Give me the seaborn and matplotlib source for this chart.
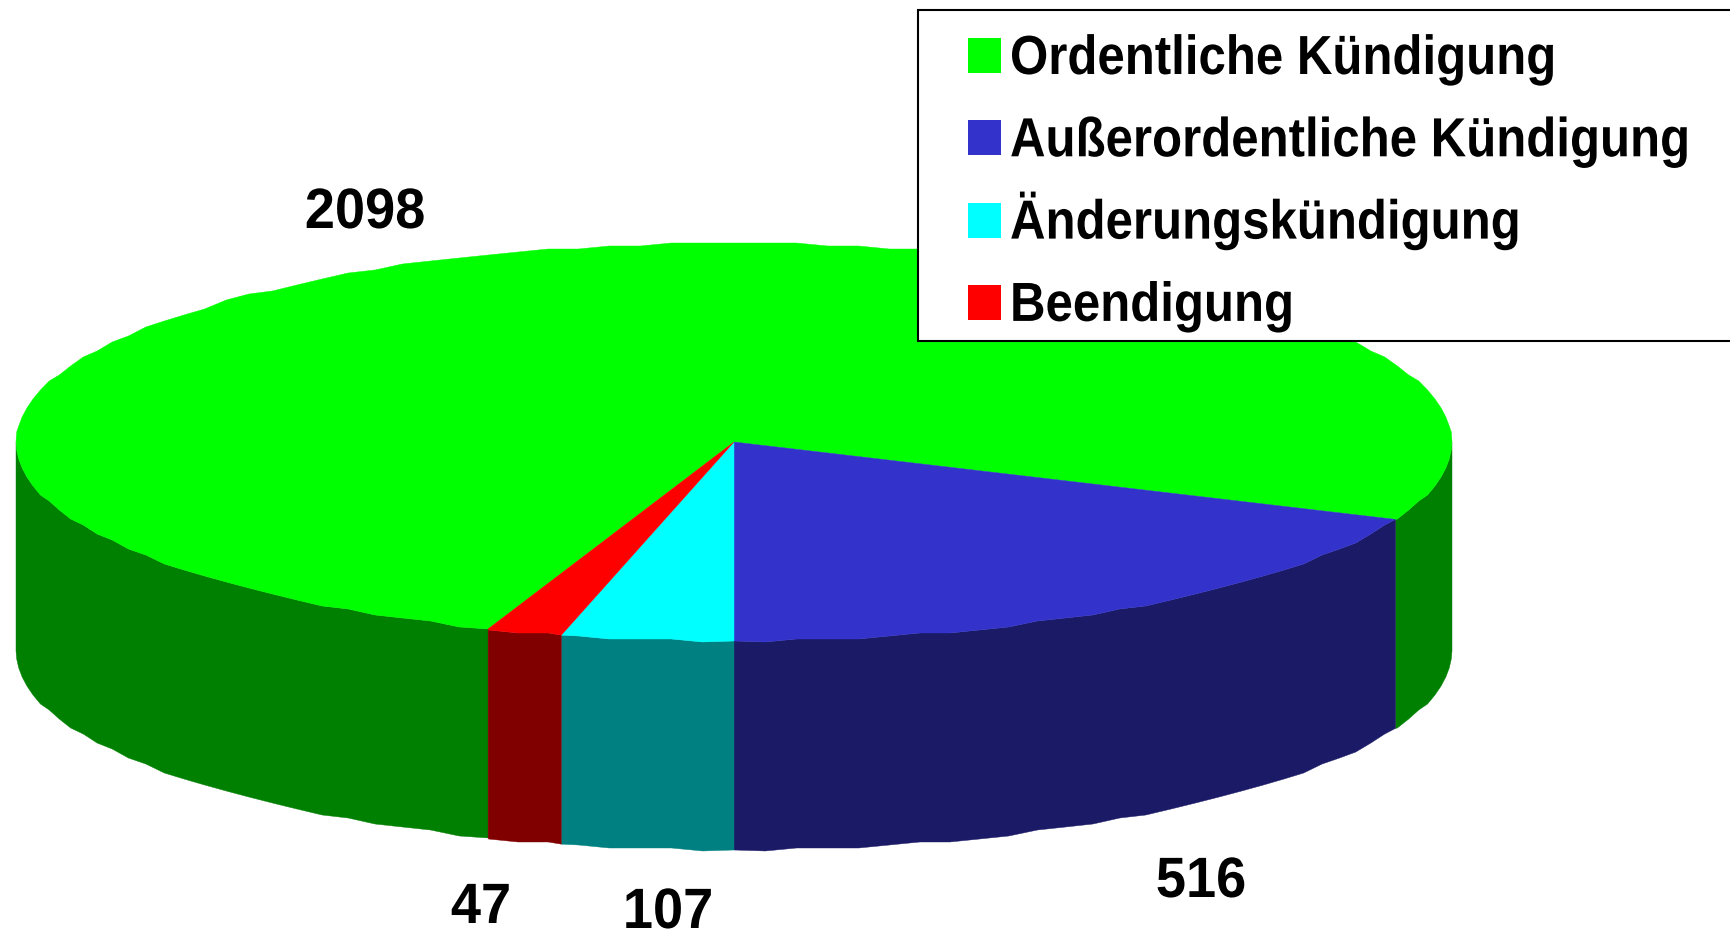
import numpy as np
import matplotlib.pyplot as plt
from matplotlib.patches import Polygon, Rectangle
from matplotlib.patheffects import AbstractPathEffect
from matplotlib.transforms import Affine2D

import seaborn as sns

categories = ['Ordentliche Kündigung', 'Außerordentliche Kündigung', 'Änderungskündigung', 'Beendigung']
values = [2098, 516, 107, 47]
top_colors = ['#00ff00', '#3333cc', '#00ffff', '#ff0000']
side_colors = ['#008000', '#1a1a66', '#008080', '#800000']

sns.set_theme(style='white')
plt.rcParams['font.family'] = ['Liberation Sans', 'DejaVu Sans']

W, H = 1731, 933
cx, cy = 734, 442      # centre of the top face, in pixels
rx, ry = 718, 199
depth = 209


class Stretch(AbstractPathEffect):
    # the reference text is taller and narrower than Liberation Sans
    def __init__(self, sy):
        super().__init__()
        self.sy = sy

    def draw_path(self, renderer, gc, tpath, affine, rgbFace=None):
        renderer.draw_path(gc, tpath, Affine2D().scale(1, self.sy) + affine, rgbFace)


def ell(a):
    a = np.radians(a)
    return cx + rx * np.cos(a), cy - ry * np.sin(a)


def rim(a0, a1):
    # outer edge of a slice, coarse on purpose: the original outline is lumpy
    # same angle grid for walls and top, otherwise white slivers show between them
    step = 2.5
    inner = np.arange(np.floor(a0 / step) + 1, np.ceil(a1 / step)) * step
    t = np.r_[a0, inner, a1]
    xs, ys = ell(t)
    ys[1:-1] = np.round(ys[1:-1] / 3) * 3
    return xs, ys


fig = plt.figure(figsize=(W / 100, H / 100), dpi=100)
ax = fig.add_axes([0, 0, 1, 1])
ax.set_xlim(0, W)
ax.set_ylim(H, 0)
ax.axis('off')

# angles from the values: blue goes ccw from the bottom, the rest go cw, green takes what is left
frac = np.array(values) / sum(values) * 360
a_blue = (270, 270 + frac[1])
a_cyan = (270 - frac[2], 270)
a_red = (270 - frac[2] - frac[3], 270 - frac[2])
a_green = (a_blue[1], a_red[0] + 360)
spans = [a_green, a_blue, a_cyan, a_red]

# side walls first, only the front half of the disc shows
for (a0, a1), col in zip(spans, side_colors):
    for lo, hi in [(180, 360), (540, 720)]:
        p0, p1 = max(a0, lo), min(a1, hi)
        if p1 <= p0:
            continue
        xs, ys = rim(p0, p1)
        pts = np.r_[np.c_[xs, ys], np.c_[xs[::-1], ys[::-1] + depth]]
        ax.add_patch(Polygon(pts, closed=True, fc=col, ec=col, lw=0.3))

# top faces
for (a0, a1), col in zip(spans, top_colors):
    xs, ys = rim(a0, a1)
    pts = np.r_[[[cx, cy]], np.c_[xs, ys]]
    ax.add_patch(Polygon(pts, closed=True, fc=col, ec=col, lw=0.3))

# value labels
lab_font = dict(fontsize=39, fontweight='bold', color='black', ha='center', va='baseline',
                path_effects=[Stretch(1.05)])
ax.text(365, 228, values[0], **lab_font)
ax.text(1201, 897, values[1], **lab_font)
ax.text(668, 928, values[2], **lab_font)
ax.text(481, 923, values[3], **lab_font)

# legend box, runs off the right edge like the original
ax.add_patch(Rectangle((918.5, 10), W, 331, fc='white', ec='black', lw=1.5, zorder=5))
for i, (name, col) in enumerate(zip(categories, top_colors)):
    y_bottom = 73 + i * 82.3
    ax.add_patch(Rectangle((968, y_bottom - 35), 33, 35, fc=col, ec='none', zorder=6))
    ax.text(1010, y_bottom + 1, name, fontsize=35.4, fontweight='bold', color='black', ha='left', va='baseline',
            path_effects=[Stretch(1.12)], zorder=6)

fig.savefig('out.png', dpi=100)
